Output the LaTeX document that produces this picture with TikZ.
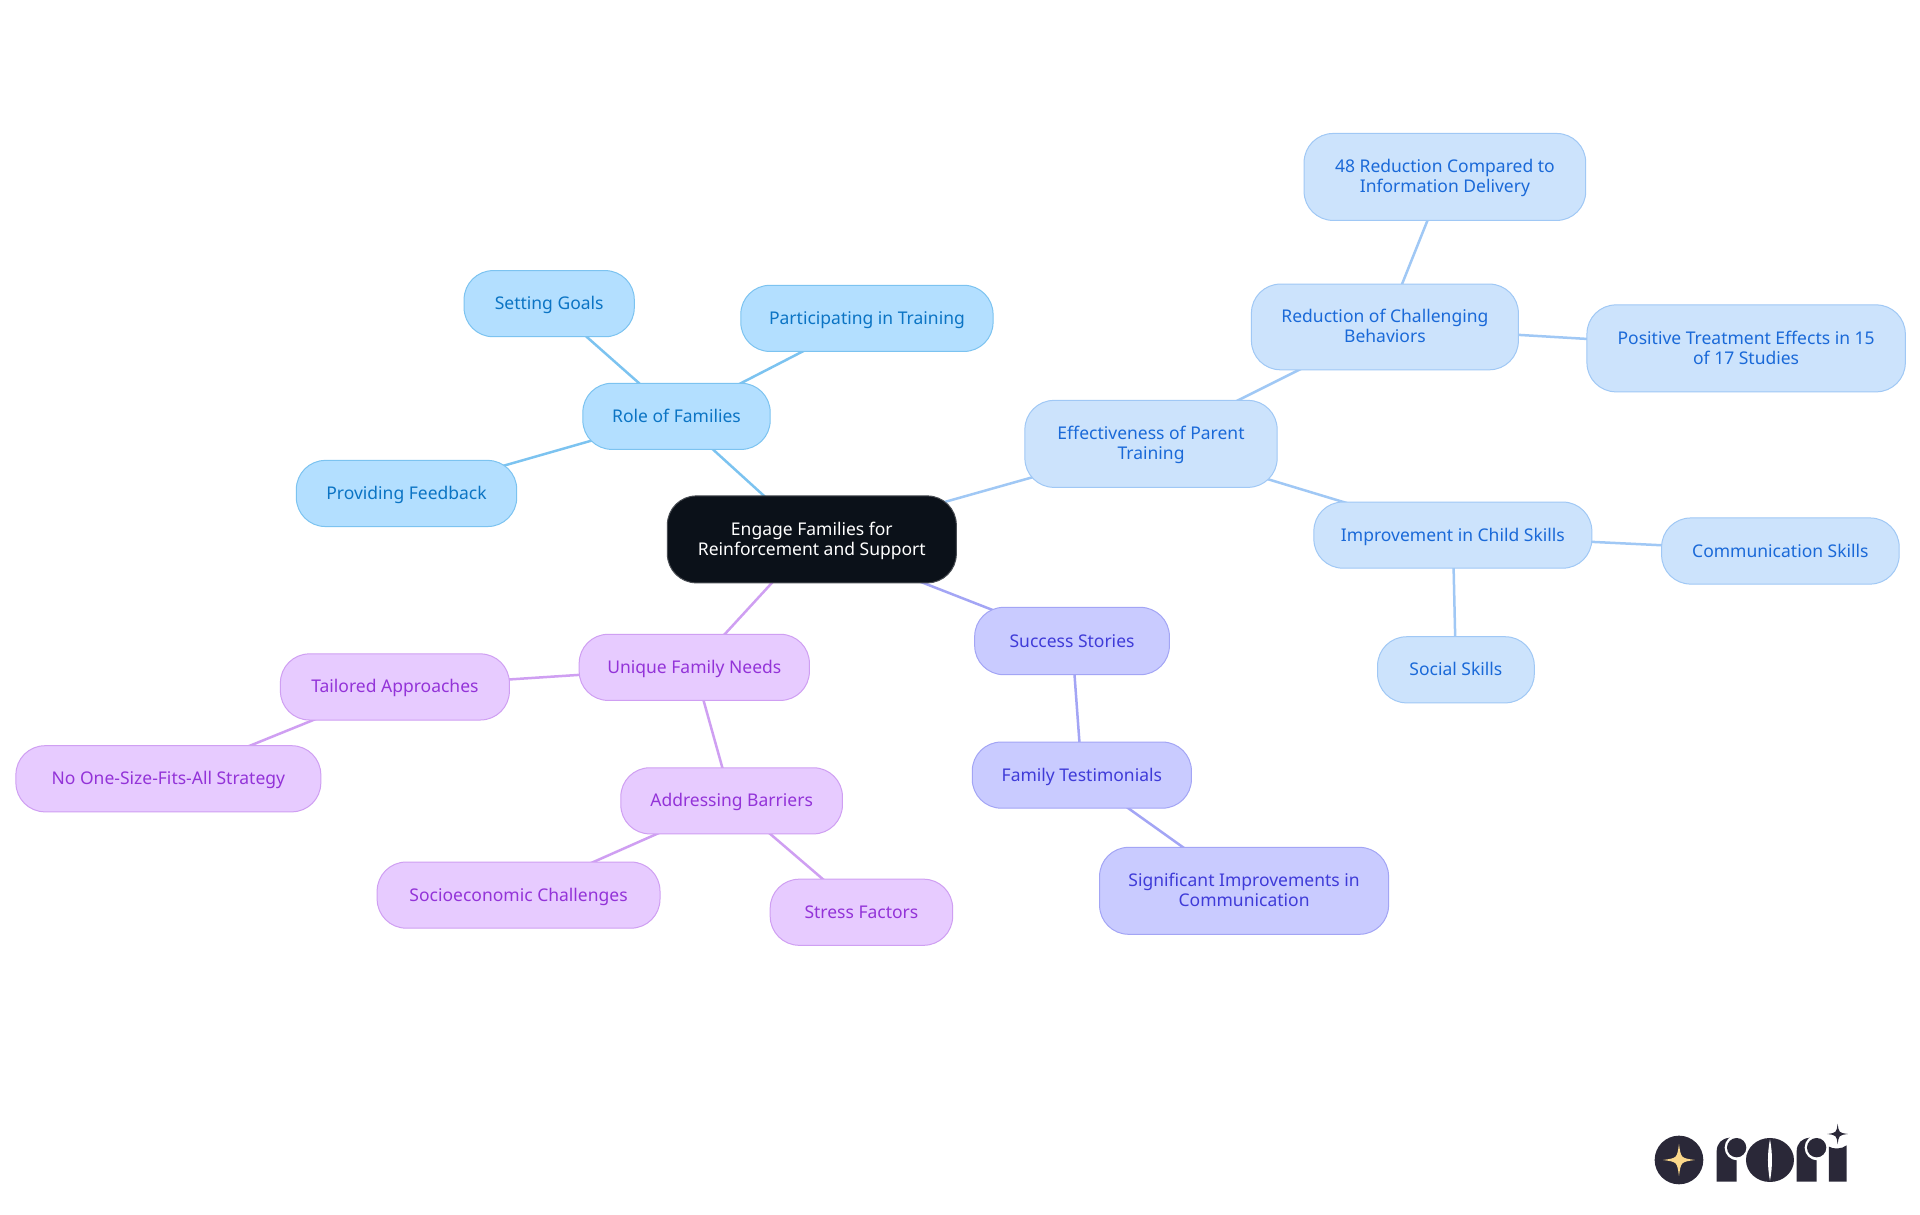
\documentclass[tikz,border=0pt]{standalone}
\usepackage{fontspec}
\setmainfont{Noto Sans}
\usetikzlibrary{backgrounds}
\definecolor{rootfill}{HTML}{0B1119}
\definecolor{skyfill}{HTML}{B3DFFF}\definecolor{skyline}{HTML}{7CC3F0}\definecolor{skytext}{HTML}{0B74C4}
\definecolor{bluefill}{HTML}{CCE3FC}\definecolor{blueline}{HTML}{A0C8F5}\definecolor{bluetext}{HTML}{1A69D8}
\definecolor{indfill}{HTML}{C9CBFF}\definecolor{indline}{HTML}{A3A5F5}\definecolor{indtext}{HTML}{3F3BD8}
\definecolor{purfill}{HTML}{E7CBFF}\definecolor{purline}{HTML}{CF9FF2}\definecolor{purtext}{HTML}{9333D8}
\definecolor{logodark}{HTML}{2A2838}\definecolor{logostar}{HTML}{FBD88A}
\tikzset{
  mind/.style={rounded corners=29pt,inner sep=0pt,outer sep=0pt,align=center,line width=1pt,font=\fontsize{17.5}{20}\selectfont},
  rootn/.style={mind,fill=rootfill,draw=rootfill!75!white,text=white},
  skyn/.style={mind,fill=skyfill,draw=skyline,text=skytext},
  bluen/.style={mind,fill=bluefill,draw=blueline,text=bluetext},
  indn/.style={mind,fill=indfill,draw=indline,text=indtext},
  purn/.style={mind,fill=purfill,draw=purline,text=purtext},
  edge/.style={line width=2.5pt},
  skye/.style={edge,draw=skyline},
  bluee/.style={edge,draw=blueline},
  inde/.style={edge,draw=indline},
  pure/.style={edge,draw=purline},
}
\newcommand\mn[7]{\node[#6,minimum width={(#3-#2)*1.2245pt},minimum height={(#5-#4)*1.2245pt}] (#1) at ({(#2+#3)/2},{(#4+#5)/2}) {\rule{0pt}{18pt}#7\strut};}
\newcommand\lstar[4]{\fill[#4] (#1,#2-#3) .. controls (#1+0.12*#3,#2-0.12*#3) .. (#1+#3,#2) .. controls (#1+0.12*#3,#2+0.12*#3) .. (#1,#2+#3) .. controls (#1-0.12*#3,#2+0.12*#3) .. (#1-#3,#2) .. controls (#1-0.12*#3,#2-0.12*#3) .. cycle;}
\begin{document}
\begin{tikzpicture}[x=1.2245pt,y=-1.2245pt]
\useasboundingbox (0,0) rectangle (1568,992.2);
\mn{root}{545}{781}{405}{476}{rootn}{Engage Families for\\Reinforcement and Support}
\mn{role}{476}{629}{313}{367}{skyn}{Role of Families}
\mn{goals}{379}{518}{221}{275}{skyn}{Setting Goals}
\mn{train}{605}{811}{233}{287}{skyn}{Participating in Training}
\mn{feed}{242}{422}{376}{430}{skyn}{Providing Feedback}
\mn{effect}{837}{1043}{327}{398}{bluen}{Effectiveness of Parent\\Training}
\mn{reduc}{1022}{1240}{232}{302}{bluen}{Reduction of Challenging\\Behaviors}
\mn{info}{1065}{1295}{109}{180}{bluen}{48 Reduction Compared to\\Information Delivery}
\mn{posit}{1296}{1556}{249}{320}{bluen}{Positive Treatment Effects in 15\\of 17 Studies}
\mn{improv}{1073}{1300}{410}{464}{bluen}{Improvement in Child Skills}
\mn{comm}{1357}{1551}{423}{477}{bluen}{Communication Skills}
\mn{social}{1125}{1253}{520}{574}{bluen}{Social Skills}
\mn{success}{796}{955}{496}{551}{indn}{Success Stories}
\mn{testi}{794}{973}{606}{660}{indn}{Family Testimonials}
\mn{signif}{898}{1134}{692}{763}{indn}{Significant Improvements in\\Communication}
\mn{unique}{473}{661}{518}{572}{purn}{Unique Family Needs}
\mn{tailor}{229}{416}{534}{588}{purn}{Tailored Approaches}
\mn{noone}{13}{262}{609}{663}{purn}{No One-Size-Fits-All Strategy}
\mn{barrier}{507}{688}{627}{681}{purn}{Addressing Barriers}
\mn{socio}{308}{539}{704}{758}{purn}{Socioeconomic Challenges}
\mn{stress}{629}{778}{718}{772}{purn}{Stress Factors}
\begin{pgfonlayer}{background}
\fill[white] (0,0) rectangle (1568,992.2);
\draw[skye] (root.center)--(role.center);
\draw[skye] (role.center)--(goals.center);
\draw[skye] (role.center)--(train.center);
\draw[skye] (role.center)--(feed.center);
\draw[bluee] (root.center)--(effect.center);
\draw[bluee] (effect.center)--(reduc.center);
\draw[bluee] (reduc.center)--(info.center);
\draw[bluee] (reduc.center)--(posit.center);
\draw[bluee] (effect.center)--(improv.center);
\draw[bluee] (improv.center)--(comm.center);
\draw[bluee] (improv.center)--(social.center);
\draw[inde] (root.center)--(success.center);
\draw[inde] (success.center)--(testi.center);
\draw[inde] (testi.center)--(signif.center);
\draw[pure] (root.center)--(unique.center);
\draw[pure] (unique.center)--(tailor.center);
\draw[pure] (tailor.center)--(noone.center);
\draw[pure] (unique.center)--(barrier.center);
\draw[pure] (barrier.center)--(socio.center);
\draw[pure] (barrier.center)--(stress.center);
\end{pgfonlayer}
% logo, drawn in the coordinates of a 3x crop
\begin{scope}[shift={(1620pt,-1100pt)},x={(0.3333pt,0pt)},y={(0pt,-0.3333pt)}]
\fill[logodark] (177,180) circle (73);
\lstar{177}{180}{48}{logostar}
% first r
\fill[logodark] (290,245)--(290,155) .. controls (290,130) and (305,115) .. (330,113)--(350,150)--(350,245)--cycle;
\fill[white] (352,143) circle (38);
\fill[logodark] (350,143) circle (29);
% o
\fill[logodark] (450,180) ellipse (72 and 66);
\fill[white] (450,118) .. controls (458,160) and (458,200) .. (450,242) .. controls (442,200) and (442,160) .. (450,118)--cycle;
% second r
\fill[logodark] (530,245)--(530,155) .. controls (530,130) and (545,115) .. (570,113)--(590,150)--(590,245)--cycle;
\fill[white] (592,143) circle (38);
\fill[logodark] (590,143) circle (29);
% i
\fill[logodark] (627,245)--(627,140) .. controls (640,148) and (665,148) .. (680,136)--(680,245)--cycle;
\lstar{653}{102}{31}{logodark}
\end{scope}
\end{tikzpicture}
\end{document}
